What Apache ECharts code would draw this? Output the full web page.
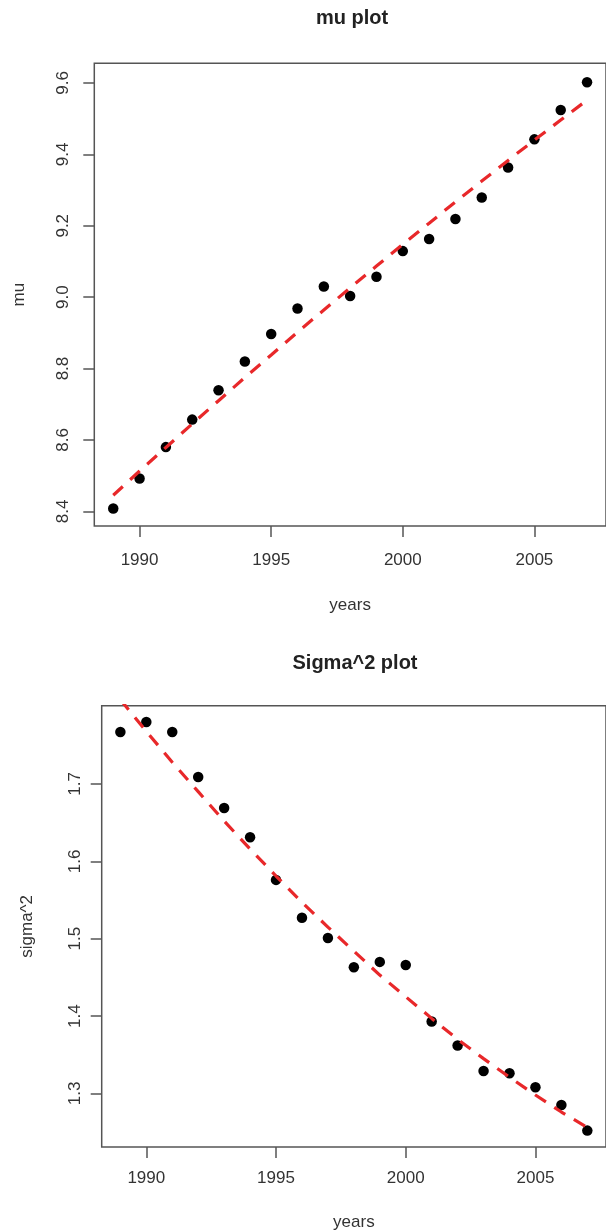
<!DOCTYPE html>
<html>
<head>
<meta charset="utf-8">
<script src="https://cdn.jsdelivr.net/npm/echarts@6/dist/echarts.min.js"></script>
<style>
html,body{margin:0;padding:0;background:#fff;}
#chart{width:606px;height:1232px;}
</style>
</head>
<body>
<div id="chart"></div>
<script>
const years = [1989,1990,1991,1992,1993,1994,1995,1996,1997,1998,1999,2000,2001,2002,2003,2004,2005,2006,2007];
const muValues = [8.408,8.492,8.580,8.657,8.739,8.820,8.897,8.968,9.030,9.003,9.057,9.129,9.163,9.219,9.279,9.363,9.442,9.524,9.602];
const muFitted = [8.445,8.513,8.579,8.645,8.710,8.775,8.838,8.902,8.964,9.026,9.087,9.148,9.207,9.267,9.325,9.383,9.440,9.496,9.552];
const sigmaValues = [1.767,1.780,1.767,1.709,1.669,1.631,1.576,1.527,1.501,1.463,1.470,1.466,1.393,1.362,1.329,1.326,1.308,1.285,1.252];
const sigmaFitted = [1.809,1.768,1.728,1.690,1.652,1.616,1.581,1.547,1.515,1.484,1.453,1.425,1.397,1.370,1.345,1.321,1.298,1.276,1.256];
const xTicks = [1990,1995,2000,2005];
const muTicks = [8.4,8.6,8.8,9.0,9.2,9.4,9.6];
const sigmaTicks = [1.3,1.4,1.5,1.6,1.7];

const FONT = '"Liberation Sans", Arial, Helvetica, sans-serif';
const TXT = '#333';
const BOX = '#555';

function pairs(xs, ys){ return xs.map((x,i)=>[x, ys[i]]); }

function xAxisCfg(gridIndex, min, max, margin, nameGap){
  return {
    type:'value', gridIndex, min, max,
    name:'years', nameLocation:'middle', nameGap,
    nameTextStyle:{fontFamily:FONT, fontSize:17, color:TXT},
    axisLine:{show:false},
    axisTick:{show:true, inside:false, length:11, customValues:xTicks, lineStyle:{color:BOX, width:1.5}},
    axisLabel:{show:true, customValues:xTicks, margin, fontFamily:FONT, fontSize:17, color:TXT, formatter:v=>String(v)},
    splitLine:{show:false}
  };
}
function yAxisCfg(gridIndex, min, max, ticks, name, margin, nameGap){
  return {
    type:'value', gridIndex, min, max,
    name, nameLocation:'middle', nameGap, nameRotate:90,
    nameTextStyle:{fontFamily:FONT, fontSize:17, color:TXT},
    axisLine:{show:false},
    axisTick:{show:true, inside:false, length:11, customValues:ticks, lineStyle:{color:BOX, width:1.5}},
    axisLabel:{show:true, customValues:ticks, rotate:90, margin, fontFamily:FONT, fontSize:17, color:TXT, formatter:v=>v.toFixed(1)},
    splitLine:{show:false}
  };
}

const chart = echarts.init(document.getElementById('chart'), null, {renderer:'canvas'});
chart.setOption({
  animation:false,
  backgroundColor:'#fff',
  title:[
    {text:'mu plot', left:352, top:8, textAlign:'center', padding:0,
     textStyle:{fontFamily:FONT, fontSize:20, fontWeight:'bold', color:'#222'}},
    {text:'Sigma^2 plot', left:355, top:653, textAlign:'center', padding:0,
     textStyle:{fontFamily:FONT, fontSize:20, fontWeight:'bold', color:'#222'}}
  ],
  grid:[
    {left:94.3, top:63.3, width:515, height:462.7, show:true, borderColor:BOX, borderWidth:1.5, backgroundColor:'transparent'},
    {left:101.7, top:705.7, width:506.5, height:442.3, show:true, borderColor:BOX, borderWidth:1.5, backgroundColor:'transparent'}
  ],
  xAxis:[
    xAxisCfg(0, 1988.28, 2007.72, 26, 71),
    xAxisCfg(1, 1988.28, 2007.72, 23, 67)
  ],
  yAxis:[
    yAxisCfg(0, 8.359, 9.655, muTicks, 'mu', 22, 66),
    yAxisCfg(1, 1.2308, 1.8011, sigmaTicks, 'sigma^2', 18, 66)
  ],
  series:[
    {type:'scatter', xAxisIndex:0, yAxisIndex:0, data:pairs(years, muValues), symbol:'circle', symbolSize:10.5,
     itemStyle:{color:'#000', opacity:1}},
    {type:'line', xAxisIndex:0, yAxisIndex:0, data:pairs(years, muFitted), showSymbol:false, symbol:'none', clip:true,
     lineStyle:{color:'#e8282a', width:3.2, type:[13,10], cap:'butt'}},
    {type:'scatter', xAxisIndex:1, yAxisIndex:1, data:pairs(years, sigmaValues), symbol:'circle', symbolSize:10.5,
     itemStyle:{color:'#000', opacity:1}},
    {type:'line', xAxisIndex:1, yAxisIndex:1, data:pairs(years, sigmaFitted), showSymbol:false, symbol:'none', clip:true,
     lineStyle:{color:'#e8282a', width:3.2, type:[13,10], cap:'butt'}}
  ]
});
</script>
</body>
</html>
